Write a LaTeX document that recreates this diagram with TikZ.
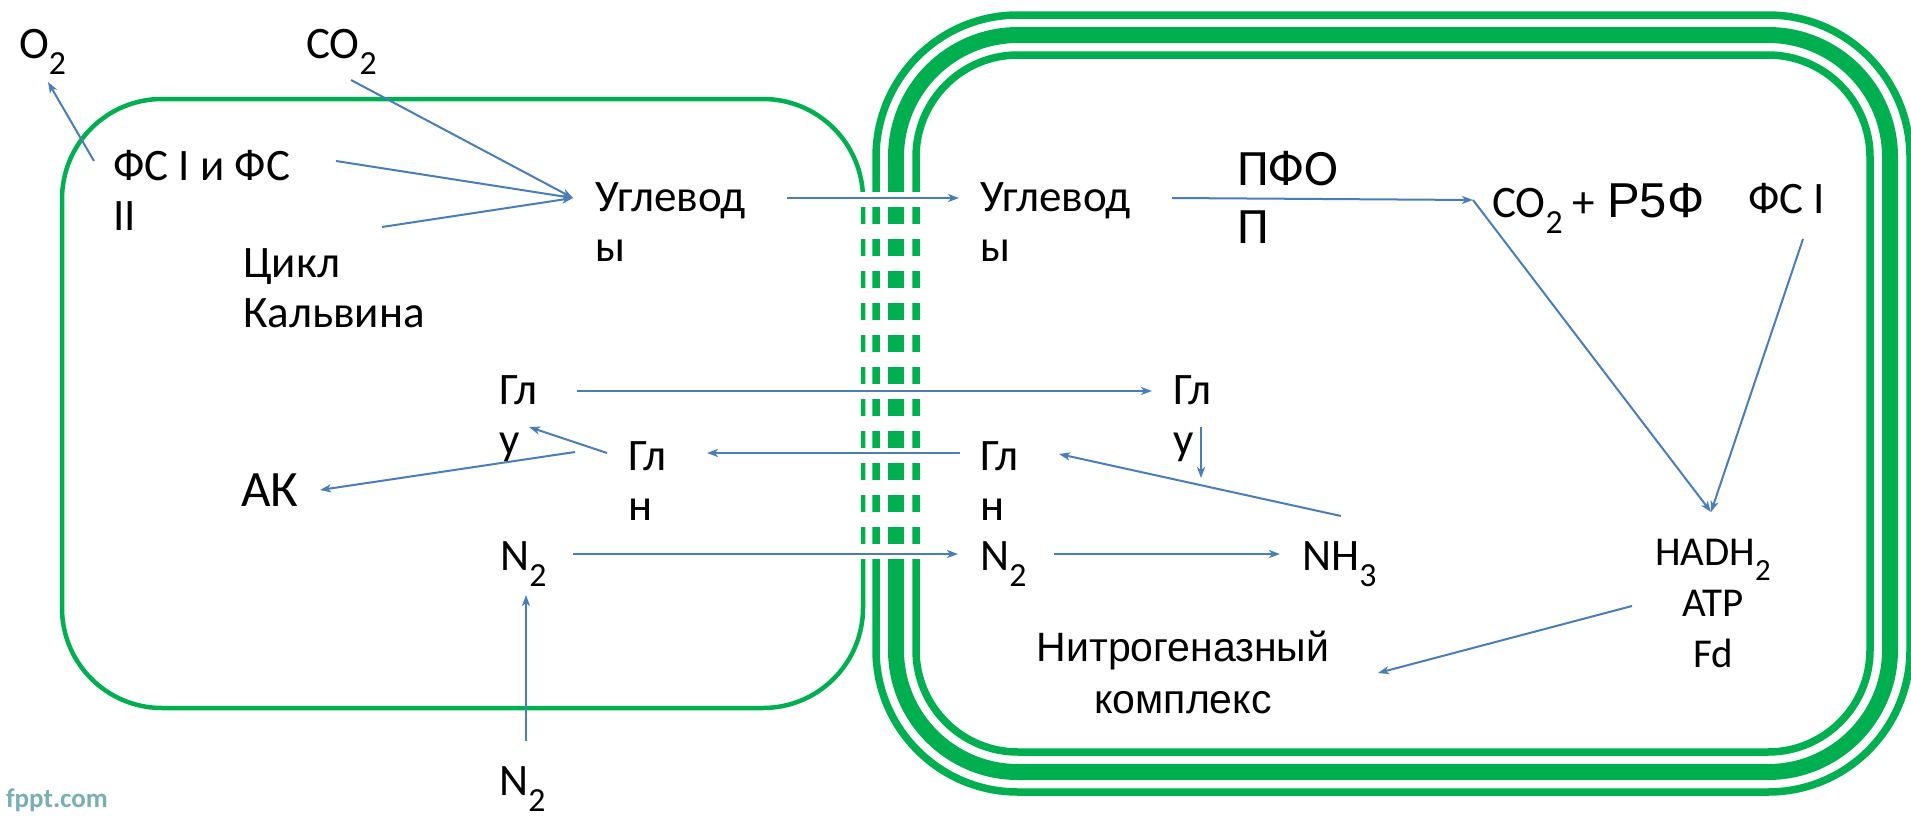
\documentclass[tikz,border=0pt]{standalone}
\usepackage{fontspec}
\setmainfont{Carlito}
\newfontfamily\arl{Liberation Sans}
\usetikzlibrary{arrows.meta}
\definecolor{cellgreen}{RGB}{0,176,80}
\definecolor{flow}{RGB}{74,126,187}
\definecolor{wmark}{RGB}{120,175,180}
% lowered index (O2, N2, NH3 ...)
\newcommand\lowtwo[1]{\smash{\raisebox{-0.37em}{\scalebox{0.75}{#1}}}}
% stacked lines, baseline on the first line
\newcommand\lstack[1]{\begin{tabular}[t]{@{}l@{}}#1\end{tabular}}
\newcommand\cstack[1]{\begin{tabular}[t]{@{}c@{}}#1\end{tabular}}

\begin{document}
\begin{tikzpicture}[x=1pt,y=-1pt,
  lbl/.style={inner sep=0pt, anchor=base west, font=\fontsize{45}{50}\selectfont},
  biglbl/.style={lbl, font=\fontsize{51}{58}\selectfont},
  flowarrow/.style={draw=flow, line width=2pt, -{Stealth[length=11pt,width=8pt,inset=3pt]}},
  wall/.style={draw=cellgreen, line width=4.5pt},
  thinwall/.style={draw=cellgreen, line width=7.5pt},
  thickwall/.style={draw=cellgreen, line width=16pt}]

\useasboundingbox (0,0) rectangle (1911,819);
\fill[white] (0,0) rectangle (1911,819);

% vegetative cell
\draw[wall, rounded corners=100pt] (62,99) rectangle (863,708);

% heterocyst with its three-layer envelope
\draw[thinwall, rounded corners=142pt] (876,15) rectangle (1910,792);
\draw[thickwall, rounded corners=122pt] (896,35) rectangle (1890,772);
\draw[thinwall, rounded corners=102pt] (916,55) rectangle (1870,752);

% microplasmodesmata: openings through the shared walls
\foreach \j in {0,...,11}
  \fill[white] (855,{192+32*\j}) rectangle (928,{207+32*\j});

% ---- vegetative cell labels
\node[lbl] (o2)     at (19,58)   {O\lowtwo{2}};
\node[lbl] (co2)    at (306,58)  {CO\lowtwo{2}};
\node[lbl] (fs)     at (113,180) {\lstack{ФС I и ФС\\II}};
\node[lbl] (calvin) at (243,277) {\lstack{Цикл\\Кальвина}};
\node[lbl] (uglL)   at (595,211) {\lstack{Углевод\\ы}};
\node[lbl] (gluL)   at (499,404) {\lstack{Гл\\у}};
\node[lbl] (glnL)   at (628,470) {\lstack{Гл\\н}};
\node[biglbl] (ak)  at (241,506) {АК};
\node[lbl] (n2L)    at (500,570) {N\lowtwo{2}};
\node[lbl] (n2B)    at (499,795) {N\lowtwo{2}};

% ---- heterocyst labels
\node[lbl] (uglR)   at (980,211) {\lstack{Углевод\\ы}};
\node[biglbl] (pfo) at (1237,185) {\lstack{ПФО\\П}};
\node[lbl] (co2r)   at (1492,217) {CO\lowtwo{2}\hspace{10pt}+\hspace{12pt}{\arl\fontsize{49}{50}\selectfont Р5Ф}};
\node[lbl] (fs1)    at (1748,213) {ФС I};
\node[lbl] (gluR)   at (1173,404) {\lstack{Гл\\у}};
\node[lbl] (glnR)   at (980,470)  {\lstack{Гл\\н}};
\node[lbl] (n2R)    at (980,570)  {N\lowtwo{2}};
\node[lbl] (nh3)    at (1302,570) {NH\lowtwo{3}};
\node[inner sep=0pt, anchor=base, font=\fontsize{41}{51}\selectfont] (hadh) at (1713,565)
  {\cstack{HADH\lowtwo{2}\\ATP\\Fd}};
\node[inner sep=0pt, anchor=base, font=\arl\fontsize{41}{52}\selectfont] (nitro) at (1183,661)
  {\cstack{Нитрогеназный\\комплекс}};

\node[inner sep=0pt, anchor=base west, text=wmark, font=\bfseries\fontsize{27}{30}\selectfont] (wm) at (6,807) {fppt.com};

% ---- photosynthesis in the vegetative cell
\draw[flowarrow] ([shift={(-19,-19)}]fs.base west) -- ([shift={(29,24)}]o2.base west);
\draw[flowarrow] ([shift={(45,22)}]co2.base west) -- ([shift={(-22,-13)}]uglL.base west);
\draw[flowarrow] ([shift={(223,-19)}]fs.base west) -- ([shift={(-22,-13)}]uglL.base west);
\draw[flowarrow] ([shift={(139,-50)}]calvin.base west) -- ([shift={(-22,-13)}]uglL.base west);

% ---- carbohydrate transfer and oxidation
\draw[flowarrow] ([shift={(192,-13)}]uglL.base west) -- ([shift={(-21,-13)}]uglR.base west);
\draw[flowarrow] ([shift={(192,-13)}]uglR.base west) -- ([shift={(-19,-17)}]co2r.base west);
\draw[flowarrow] ([shift={(-19,-17)}]co2r.base west) -- ([shift={(-2,-53)}]hadh.base);
\draw[flowarrow] ([shift={(55,26)}]fs1.base west) -- ([shift={(-2,-53)}]hadh.base);
\draw[flowarrow] ([shift={(-81,41)}]hadh.base) -- ([shift={(195,12)}]nitro.base);

% ---- nitrogen fixation and amino acid exchange
\draw[flowarrow] ([shift={(27,-54)}]n2B.base west) -- ([shift={(26,25)}]n2L.base west);
\draw[flowarrow] ([shift={(73,-16)}]n2L.base west) -- ([shift={(-22,-16)}]n2R.base west);
\draw[flowarrow] ([shift={(74,-16)}]n2R.base west) -- ([shift={(-22,-16)}]nh3.base west);
\draw[flowarrow] ([shift={(39,-54)}]nh3.base west) -- ([shift={(79,-16)}]glnR.base west);
\draw[flowarrow] ([shift={(28,23)}]gluR.base west) -- ([shift={(28,74)}]gluR.base west);
\draw[flowarrow] ([shift={(-20,-17)}]glnR.base west) -- ([shift={(79,-17)}]glnL.base west);
\draw[flowarrow] ([shift={(78,-13)}]gluL.base west) -- ([shift={(-21,-13)}]gluR.base west);
\draw[flowarrow] ([shift={(-21,-17)}]glnL.base west) -- ([shift={(30,23)}]gluL.base west);
\draw[flowarrow] ([shift={(-53,-18)}]glnL.base west) -- ([shift={(79,-16)}]ak.base west);

\end{tikzpicture}
\end{document}
